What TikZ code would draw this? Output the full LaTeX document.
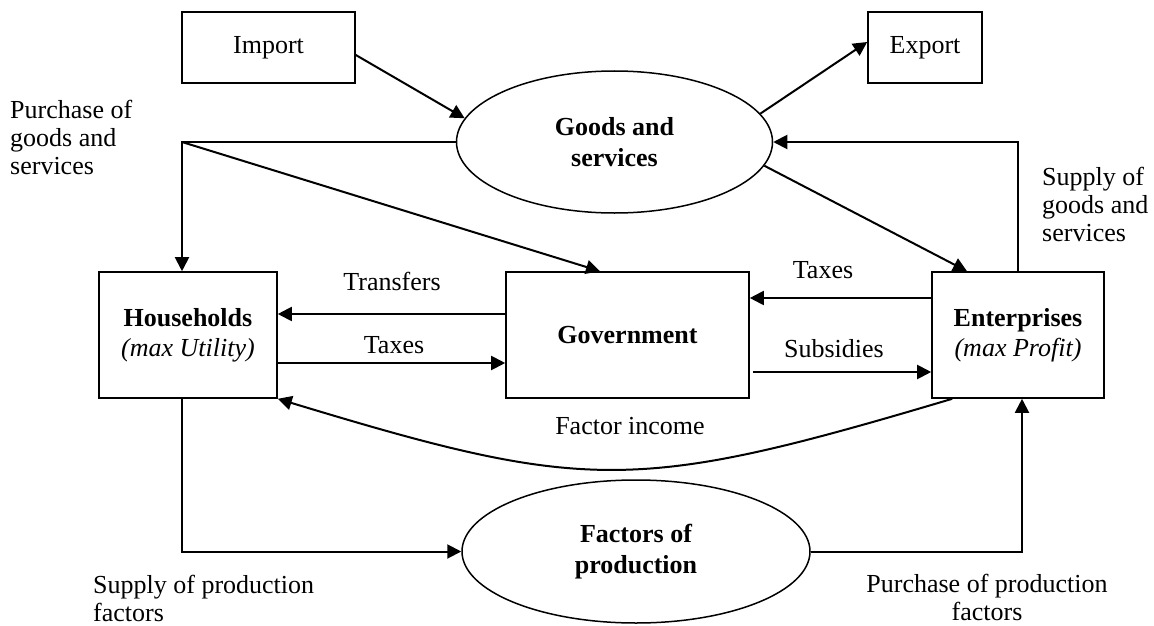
\documentclass[tikz,border=0pt]{standalone}
\usepackage{fontspec}
\setmainfont{Liberation Serif}
\usetikzlibrary{arrows.meta,shapes.geometric}
\begin{document}
\begin{tikzpicture}[x=1pt,y=-1pt,
  box/.style={draw, line width=1.6pt, inner sep=0pt, align=center, font=\fontsize{26}{30}\selectfont},
  oval/.style={ellipse, draw, line width=1.5pt, inner sep=0pt, align=center, font=\bfseries\fontsize{26}{31}\selectfont},
  arr/.style={line width=2pt, -{Triangle[length=14pt,width=14pt]}},
  lbl/.style={inner sep=0pt, font=\fontsize{26}{28}\selectfont}]
\fill[white] (0,0) rectangle (1154,626);
\useasboundingbox (0,0) rectangle (1154,626);

% nodes
\node[box, minimum width=173pt, minimum height=71pt] (imp) at (268.5,47.5) {Import};
\node[box, minimum width=114pt, minimum height=71pt] (exp) at (925,47.5) {Export};
\node[oval, minimum width=316pt, minimum height=142pt] (goods) at (614.5,142) {Goods and\\services};
\node[box, minimum width=178pt, minimum height=126pt] (hh) at (188,335) {\textbf{Households}\\\textit{(max Utility)}};
\node[box, minimum width=243pt, minimum height=126pt] (gov) at (627.5,335) {\textbf{Government}};
\node[box, minimum width=172pt, minimum height=126pt] (ent) at (1018,335) {\textbf{Enterprises}\\\textit{(max Profit)}};
\node[oval, minimum width=348pt, minimum height=143pt] (fac) at (636,551.5) {Factors of\\production};
\coordinate (split) at (182,142);

% connectors
\draw[arr] ([yshift=-7.5pt]imp.east) -- (goods.171.5);
\draw[arr] (goods.11) -- ([yshift=5.5pt]exp.west);
\draw[arr] (goods.west) -| ([xshift=-6pt]hh.north);
\draw[arr] (split) -- ([xshift=-27.5pt]gov.north);
\draw[arr] (goods.-9.6) -- ([xshift=-51pt]ent.north);
\draw[arr] (ent.north) |- (goods.east);
\draw[arr] ([yshift=21pt]gov.west) -- ([yshift=21pt]hh.east);
\draw[arr] ([yshift=-28pt]hh.east) -- ([yshift=-28pt]gov.west);
\draw[arr] ([yshift=37pt]ent.west) -- ([yshift=37pt]gov.east);
\draw[arr] ([xshift=3pt,yshift=-37pt]gov.east) -- ([yshift=-37pt]ent.west);
\draw[arr] ([xshift=21pt]ent.south west) .. controls (636,493) and (588,493) .. (hh.south east);
\draw[arr] ([xshift=-6pt]hh.south) |- (fac.west);
\draw[arr] (fac.east) -| ([xshift=4pt]ent.south);

% labels (multi-line: base = last line)
\node[lbl, anchor=base] (ltr) at (392,290) {Transfers};
\node[lbl, anchor=base] (ltx1) at (394,353) {Taxes};
\node[lbl, anchor=base] (ltx2) at (823,278) {Taxes};
\node[lbl, anchor=base] (lsub) at (834,357) {Subsidies};
\node[lbl, anchor=base] (lfi) at (630,434) {Factor income};
\node[lbl, anchor=base west, align=left] (lpg) at (10,174) {Purchase of\\goods and\\services};
\node[lbl, anchor=base west, align=left] (lsg) at (1042,241) {Supply of\\goods and\\services};
\node[lbl, anchor=base west, align=left] (lsp) at (93,621) {Supply of production\\factors};
\node[lbl, anchor=base, align=center] (lpp) at (987,620) {Purchase of production\\factors};
\end{tikzpicture}
\end{document}
